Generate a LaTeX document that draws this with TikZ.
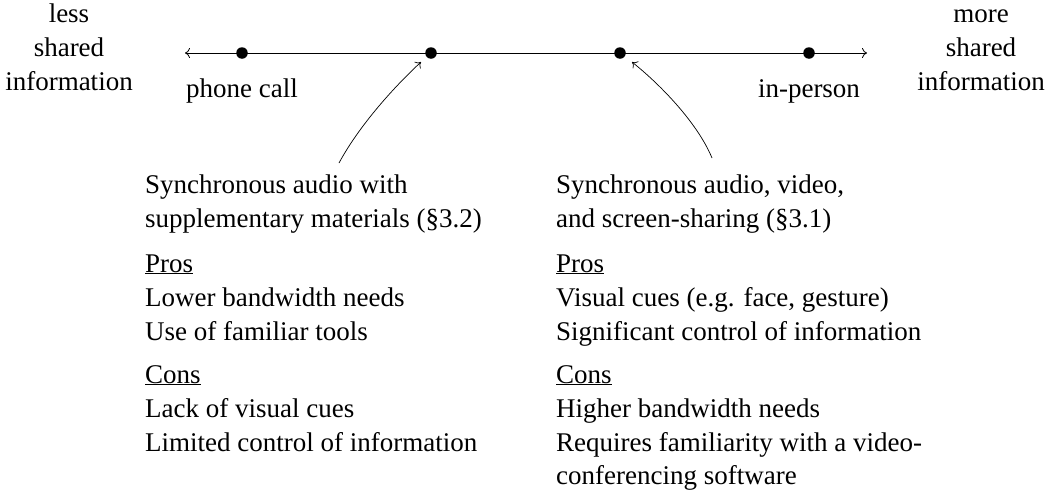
\documentclass[tikz,border=0pt]{standalone}
\usepackage{fontspec}
\setmainfont{Liberation Serif}
\usetikzlibrary{arrows.meta}
\begin{document}
\begin{tikzpicture}[x=1pt,y=-1pt,
  txt/.style={inner sep=0pt, anchor=base west, font=\fontsize{27}{33}\selectfont},
  ctxt/.style={inner sep=0pt, anchor=base, font=\fontsize{27}{33}\selectfont},
  dot/.style={circle, fill=black, inner sep=0pt, minimum size=11.5pt},
  axis/.style={line width=0.8pt, {To[length=5pt,width=10pt]}-{To[length=5pt,width=10pt]}},
  pointer/.style={line width=0.7pt, -{To[length=5pt,width=9pt]}}]
\useasboundingbox (0,0) rectangle (1047,501);
% axis
\coordinate (L) at (185,53);
\coordinate (R) at (867,53);
\draw[axis] (L) -- (R);
\node[dot] (d1) at (242,53) {};
\node[dot] (d2) at (431,53) {};
\node[dot] (d3) at (620,53) {};
\node[dot] (d4) at (809,53) {};
\node[ctxt] (phone) at (242,97) {phone call};
\node[ctxt] (inperson) at (809,97) {in-person};
% side labels
\node[ctxt] (less1) at (69,22) {less};
\node[ctxt] (less2) at (69,56) {shared};
\node[ctxt] (less3) at (69,90) {information};
\node[ctxt] (more1) at (981,22) {more};
\node[ctxt] (more2) at (981,56) {shared};
\node[ctxt] (more3) at (981,90) {information};
% pointers
\coordinate (t1) at (339,163);
\coordinate (p1) at (421,62);
\coordinate (t2) at (712,158);
\coordinate (p2) at (632,62);
\draw[pointer] (t1) .. controls (359,126) and (393,88) .. (p1);
\draw[pointer] (t2) .. controls (698,124) and (662,86) .. (p2);
% left block
\node[txt] (a1) at (145,193) {Synchronous audio with};
\node[txt] (a2) at (145,227) {supplementary materials (§3.2)};
\node[txt] (a3) at (145,272) {\underline{Pros}};
\node[txt] (a4) at (145,306) {Lower bandwidth needs};
\node[txt] (a5) at (145,340) {Use of familiar tools};
\node[txt] (a6) at (145,383) {\underline{Cons}};
\node[txt] (a7) at (145,417) {Lack of visual cues};
\node[txt] (a8) at (145,451) {Limited control of information};
% right block
\node[txt] (b1) at (556,193) {Synchronous audio, video,};
\node[txt] (b2) at (556,227) {and screen-sharing (§3.1)};
\node[txt] (b3) at (556,272) {\underline{Pros}};
\node[txt] (b4) at (556,306) {Visual cues (e.g. face, gesture)};
\node[txt] (b5) at (556,340) {Significant control of information};
\node[txt] (b6) at (556,383) {\underline{Cons}};
\node[txt] (b7) at (556,417) {Higher bandwidth needs};
\node[txt] (b8) at (556,451) {Requires familiarity with a video-};
\node[txt] (b9) at (556,484) {conferencing software};
\end{tikzpicture}
\end{document}
